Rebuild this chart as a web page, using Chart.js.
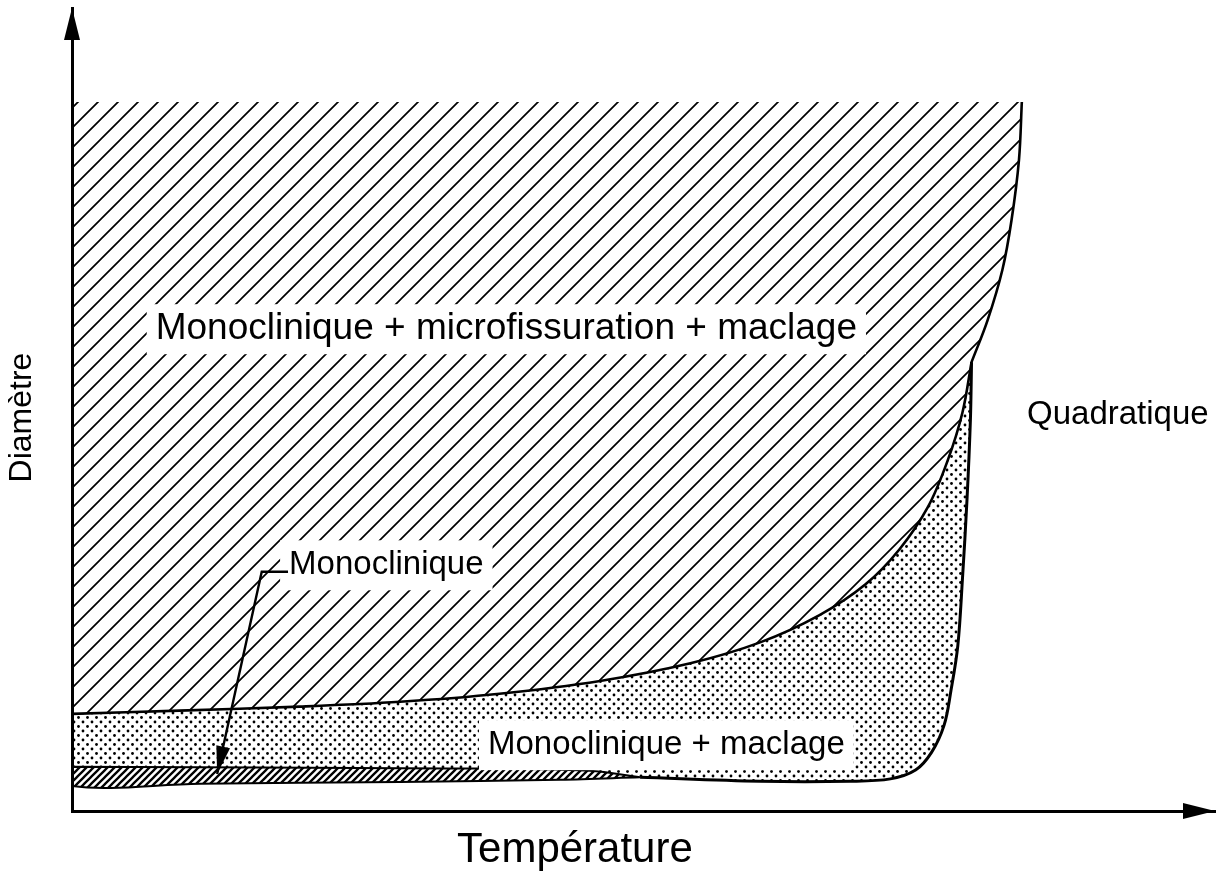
<!DOCTYPE html>
<html>
<head>
<meta charset="utf-8">
<script src="https://cdn.jsdelivr.net/npm/chart.js@4.4.1/dist/chart.umd.min.js"></script>
<style>
  html, body { margin: 0; padding: 0; background: #fff; }
  #wrap { width: 1225px; height: 879px; }
</style>
</head>
<body>
<div id="wrap"><canvas id="phaseChart"></canvas></div>
<script>
// Température (x) and Diamètre (y) in arbitrary units 0-100
var topEdgeT = [0, 83.1];
var topEdgeD = [88.3, 88.3];

// right edge of the hatched field, top corner down to the triple point
var rightEdgeT = [83.1, 82.85, 82.2, 81.4, 80.1, 78.7];
var rightEdgeD = [88.3, 81.1, 73.6, 67.4, 61.1, 55.9];

// boundary hatched / dotted, from the triple point to the left axis
var upperT = [78.7, 77.9, 76.6, 74.9, 72.4, 69.4, 65.4, 60.2, 54.1, 46.2, 37.4, 28.7, 19.9, 9.4, 0];
var upperD = [55.9, 49.6, 43.6, 37.9, 32.6, 28.2, 24.4, 21.0, 18.4, 16.2, 14.6, 13.6, 13.0, 12.5, 12.1];

// right / lower edge of the dotted field
var dotEdgeT = [78.7, 78.6, 78.3, 77.9, 77.5, 76.9, 76.3, 75.2, 73.8, 71.6, 68.1, 60.2, 49.7];
var dotEdgeD = [55.9, 48.7, 38.7, 28.8, 20.6, 15.0, 10.7, 7.3, 5.1, 4.0, 3.7, 3.7, 4.2];

// thin monoclinic strip
var stripTopT = [49.7, 45.3, 33.1, 0];
var stripTopD = [4.2, 5.0, 5.3, 5.5];
var stripBotT = [0, 11.2, 28.7, 42.7, 49.7];
var stripBotD = [3.1, 3.4, 3.6, 3.9, 4.2];

var labelTexts = ['Monoclinique + microfissuration + maclage', 'Monoclinique', 'Monoclinique + maclage', 'Quadratique'];
var labelT = [38.0, 27.5, 52.0, 91.5];
var labelD = [60.0, 30.6, 8.2, 49.3];
var labelSize = [37, 33, 33, 33];

// leader from the "Monoclinique" label to the strip
var leaderT = [18.9, 16.6, 12.7];
var leaderD = [29.8, 29.8, 4.6];

var FONT = '"Liberation Sans", Arial, Helvetica, sans-serif';

function pts(xs, ys) {
  return xs.map(function (x, i) { return { x: x, y: ys[i] }; });
}

// chain boundary pieces; repeating each piece's last point keeps a sharp corner there
function join(pieces) {
  var out = [];
  pieces.forEach(function (p) {
    out = out.concat(p);
    out.push({ x: p[p.length - 1].x, y: p[p.length - 1].y });
  });
  return out;
}

function makePattern(size, draw) {
  var c = document.createElement('canvas');
  c.width = size; c.height = size;
  var g = c.getContext('2d');
  draw(g, size);
  return g.createPattern(c, 'repeat');
}

function diagonals(g, s) {
  g.beginPath();
  g.moveTo(-s, s); g.lineTo(s, -s);
  g.moveTo(0, s); g.lineTo(s, 0);
  g.moveTo(0, 2 * s); g.lineTo(2 * s, 0);
  g.stroke();
}

var hatch = makePattern(20, function (g, s) {
  g.strokeStyle = '#000'; g.lineWidth = 1.7;
  diagonals(g, s);
});
var dots = makePattern(9, function (g, s) {
  g.fillStyle = '#000';
  g.beginPath(); g.arc(2, 2, 1.4, 0, Math.PI * 2); g.fill();
  g.beginPath(); g.arc(6.5, 6.5, 1.4, 0, Math.PI * 2); g.fill();
});
var strip = makePattern(7, function (g, s) {
  g.strokeStyle = '#000'; g.lineWidth = 2.3;
  diagonals(g, s);
});

var hatchPoly = join([pts(topEdgeT, topEdgeD), pts(rightEdgeT, rightEdgeD), pts(upperT, upperD)]);
var dotPoly = join([pts(upperT, upperD).reverse(), pts(dotEdgeT, dotEdgeD), pts(stripTopT, stripTopD)]);
var stripPoly = join([pts(stripTopT, stripTopD), pts(stripBotT, stripBotD)]);
var mainLine = join([pts(upperT, upperD).reverse(), pts(rightEdgeT, rightEdgeD).reverse()]);
var dotLine = pts(dotEdgeT, dotEdgeD);

function arrowHead(ctx, x1, y1, x2, y2, len, half) {
  var a = Math.atan2(y2 - y1, x2 - x1);
  ctx.beginPath();
  ctx.moveTo(x2, y2);
  ctx.lineTo(x2 - len * Math.cos(a) + half * Math.sin(a), y2 - len * Math.sin(a) - half * Math.cos(a));
  ctx.lineTo(x2 - len * Math.cos(a) - half * Math.sin(a), y2 - len * Math.sin(a) + half * Math.cos(a));
  ctx.closePath();
  ctx.fill();
}

var decorations = {
  id: 'decorations',
  afterDatasetsDraw: function (chart) {
    var ctx = chart.ctx, xs = chart.scales.x, ys = chart.scales.y, a = chart.chartArea;
    ctx.save();
    ctx.textAlign = 'center';
    ctx.textBaseline = 'middle';
    labelTexts.forEach(function (t, i) {
      ctx.font = labelSize[i] + 'px ' + FONT;
      var px = xs.getPixelForValue(labelT[i]), py = ys.getPixelForValue(labelD[i]);
      var w = ctx.measureText(t).width;
      ctx.fillStyle = '#fff';
      ctx.fillRect(px - w / 2 - 9, py - 25, w + 18, 50);
      ctx.fillStyle = '#000';
      ctx.fillText(t, px, py);
    });

    // leader line with arrow
    ctx.strokeStyle = '#000'; ctx.fillStyle = '#000'; ctx.lineWidth = 2.4;
    ctx.beginPath();
    leaderT.forEach(function (t, i) {
      var px = xs.getPixelForValue(t), py = ys.getPixelForValue(leaderD[i]);
      if (i === 0) ctx.moveTo(px, py); else ctx.lineTo(px, py);
    });
    ctx.stroke();
    var n = leaderT.length;
    arrowHead(ctx, xs.getPixelForValue(leaderT[n - 2]), ys.getPixelForValue(leaderD[n - 2]),
      xs.getPixelForValue(leaderT[n - 1]), ys.getPixelForValue(leaderD[n - 1]), 28, 7);

    // axis arrow heads
    arrowHead(ctx, a.left, a.bottom, a.left, a.top, 32, 8);
    arrowHead(ctx, a.left, a.bottom, a.right, a.bottom, 32, 8);

    // axis titles
    ctx.font = '42px ' + FONT;
    ctx.fillText('Température', xs.getPixelForValue(44.0), a.bottom + 39);
    ctx.font = '32px ' + FONT;
    ctx.translate(22, ys.getPixelForValue(49.0));
    ctx.rotate(-Math.PI / 2);
    ctx.fillText('Diamètre', 0, 0);
    ctx.restore();
  }
};

var TENSION = 0.35;

new Chart(document.getElementById('phaseChart'), {
  type: 'line',
  data: {
    datasets: [
      { label: 'frontière', data: mainLine, order: 0, fill: false, borderColor: '#000', borderWidth: 2.6, tension: TENSION, pointRadius: 0 },
      { label: 'frontière quadratique', data: dotLine, order: 0, fill: false, borderColor: '#000', borderWidth: 3, tension: TENSION, pointRadius: 0 },
      { label: 'Monoclinique', data: stripPoly, order: 1, fill: 'shape', backgroundColor: strip, borderColor: '#000', borderWidth: 2, tension: TENSION, pointRadius: 0 },
      { label: 'Monoclinique + maclage', data: dotPoly, order: 2, fill: 'shape', backgroundColor: dots, borderWidth: 0, tension: TENSION, pointRadius: 0 },
      { label: 'Monoclinique + microfissuration + maclage', data: hatchPoly, order: 3, fill: 'shape', backgroundColor: hatch, borderWidth: 0, tension: TENSION, pointRadius: 0 }
    ]
  },
  options: {
    responsive: true,
    maintainAspectRatio: false,
    animation: false,
    layout: { padding: { top: 8, right: 10, left: 0, bottom: 0 } },
    plugins: { legend: { display: false }, tooltip: { enabled: false } },
    scales: {
      x: {
        type: 'linear', min: 0, max: 100,
        grid: { display: false },
        ticks: { display: false },
        border: { display: true, color: '#000', width: 3 },
        afterFit: function (s) { s.height = 68; }
      },
      y: {
        type: 'linear', min: 0, max: 100,
        grid: { display: false },
        ticks: { display: false },
        border: { display: true, color: '#000', width: 3 },
        afterFit: function (s) { s.width = 72; }
      }
    }
  },
  plugins: [decorations]
});
</script>
</body>
</html>
